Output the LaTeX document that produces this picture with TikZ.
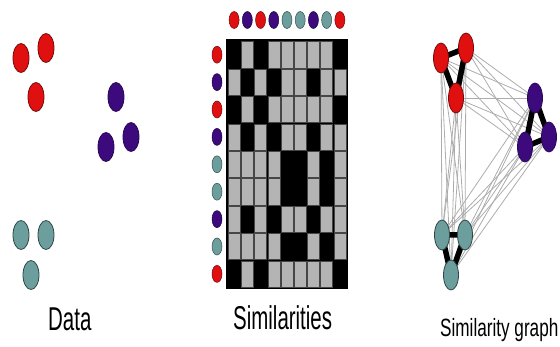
\documentclass[tikz,border=0pt]{standalone}
\usepackage{fontspec}
\setmainfont{Liberation Sans}
\usetikzlibrary{shapes.geometric}
\definecolor{cred}{HTML}{E01010}
\definecolor{cpur}{HTML}{3C0A7C}
\definecolor{cteal}{HTML}{6B9E9D}
\definecolor{cgray}{HTML}{B4B4B4}
\begin{document}
\begin{tikzpicture}[x=1pt,y=-1pt,
  dot/.style={ellipse,inner sep=0pt,minimum width=16pt,minimum height=29pt,line width=0.8pt},
  rdot/.style={dot,fill=cred,draw=cred!55!black},
  pdot/.style={dot,fill=cpur,draw=cpur!70!black},
  tdot/.style={dot,fill=cteal,draw=cteal!45!black},
  sdot/.style={ellipse,inner sep=0pt,minimum width=10pt,minimum height=17pt,line width=0.5pt},
  thinedge/.style={draw=gray!65,line width=0.8pt},
  thickedge/.style={draw=black,line width=5.5pt},
  cellbox/.style={fill=cgray,draw=gray!55!black,line width=0.35pt},
  lbl/.style={inner sep=0pt,anchor=base west}]
\useasboundingbox (0,0) rectangle (560,347);

% ---------- Data ----------
\node[rdot] (dr1) at (21,58) {};
\node[rdot] (dr2) at (46,48) {};
\node[rdot] (dr3) at (36,97) {};
\node[pdot] (dp1) at (116,97) {};
\node[pdot] (dp2) at (131,137) {};
\node[pdot] (dp3) at (106,147) {};
\node[tdot] (dt1) at (21,235) {};
\node[tdot] (dt2) at (46,235) {};
\node[tdot] (dt3) at (31,275) {};

% ---------- Similarities ----------
\fill[black] (226,39) rectangle (348,289);
\foreach \a [count=\i] in {1,2,1,2,3,3,2,3,1} {
  \foreach \b [count=\j] in {1,2,1,2,3,3,2,3,1} {
    \ifnum\a=\b\relax\else
      \filldraw[cellbox] ({227.5+13.22*(\j-1)+0.6},{41+27.4*(\i-1)+0.6})
        rectangle ({227.5+13.22*\j-0.6},{41+27.4*\i-0.6});
    \fi
  }
}
\foreach \c [count=\i] in {cred,cpur,cred,cpur,cteal,cteal,cpur,cteal,cred} {
  \node[sdot,fill=\c,draw=\c!50!black] (mt\i) at ({227.5+13.22*(\i-0.5)},20) {};
  \node[sdot,fill=\c,draw=\c!50!black] (ml\i) at (217,{41+27.4*(\i-0.5)}) {};
}

% ---------- Similarity graph ----------
\coordinate (cr1) at (441,58);
\coordinate (cr2) at (466,48);
\coordinate (cr3) at (456,98);
\coordinate (cp1) at (535,98);
\coordinate (cp2) at (549,137);
\coordinate (cp3) at (525,147);
\coordinate (ct1) at (442,235);
\coordinate (ct2) at (465,235);
\coordinate (ct3) at (451,275);
\foreach \u in {cr1,cr2,cr3} {
  \foreach \v in {cp1,cp2,cp3,ct1,ct2,ct3} { \draw[thinedge] (\u) -- (\v); }
}
\foreach \u in {cp1,cp2,cp3} {
  \foreach \v in {ct1,ct2,ct3} { \draw[thinedge] (\u) -- (\v); }
}
\draw[thickedge] (cr1) -- (cr2) -- (cr3) -- cycle;
\draw[thickedge] (cp1) -- (cp2) -- (cp3) -- cycle;
\draw[thickedge] (ct1) -- (ct2) -- (ct3) -- cycle;
\node[rdot,minimum width=15pt,minimum height=30pt] (gr1) at (cr1) {};
\node[rdot,minimum width=15pt,minimum height=30pt] (gr2) at (cr2) {};
\node[rdot,minimum width=15pt,minimum height=30pt] (gr3) at (cr3) {};
\node[pdot,minimum width=15pt,minimum height=30pt] (gp1) at (cp1) {};
\node[pdot,minimum width=15pt,minimum height=30pt] (gp2) at (cp2) {};
\node[pdot,minimum width=15pt,minimum height=30pt] (gp3) at (cp3) {};
\node[tdot,minimum width=15pt,minimum height=30pt] (gt1) at (ct1) {};
\node[tdot,minimum width=15pt,minimum height=30pt] (gt2) at (ct2) {};
\node[tdot,minimum width=15pt,minimum height=30pt] (gt3) at (ct3) {};

% ---------- Labels ----------
\node[lbl] (lData) at (48,331) {\scalebox{0.62}[1]{\fontsize{33}{33}\selectfont Data}};
\node[lbl] (lSim) at (233,330) {\scalebox{0.62}[1]{\fontsize{33}{33}\selectfont Similarities}};
\node[lbl] (lGraph) at (440,337) {\scalebox{0.686}[1]{\fontsize{25}{25}\selectfont Similarity graph}};
\end{tikzpicture}
\end{document}
